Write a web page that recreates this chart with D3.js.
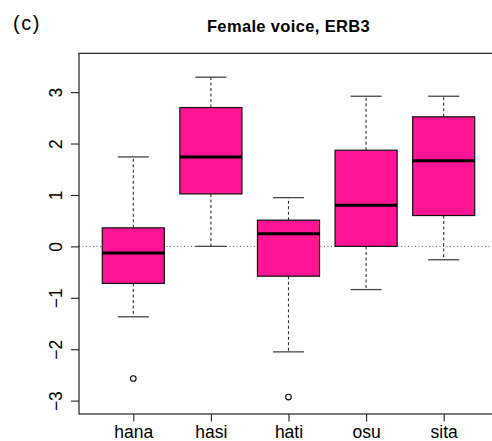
<!DOCTYPE html>
<html>
<head>
<meta charset="utf-8">
<script src="https://cdn.jsdelivr.net/npm/d3@7"></script>
<style>
  html, body { margin: 0; padding: 0; background: #fff; }
  svg { display: block; }
  text { font-family: "Liberation Sans", Arial, Helvetica, sans-serif; fill: #000; }
</style>
</head>
<body>
<svg id="chart" width="492" height="441"></svg>
<script>
// ---- data ----
const categories = ["hana", "hasi", "hati", "osu", "sita"];
const lowerWhisker = [-1.37, 0.00, -2.05, -0.84, -0.26];
const q1 =           [-0.72, 1.02, -0.58, 0.00, 0.60];
const median =       [-0.13, 1.74, 0.245, 0.80, 1.665];
const q3 =           [0.36, 2.70, 0.51, 1.87, 2.52];
const upperWhisker = [1.74, 3.29, 0.95, 2.92, 2.92];
const outliers = [
  { cat: "hana", value: -2.57 },
  { cat: "hati", value: -2.93 }
];
const yTicks = [-3, -2, -1, 0, 1, 2, 3];
const title = "Female voice, ERB3";
const panelLabel = "(c)";

// ---- layout ----
const svg = d3.select("#chart");
const plotLeft = 79, plotRight = 498, plotTop = 53.3, plotBottom = 414;

const x = d3.scalePoint().domain(categories).range([plotLeft, plotRight]).padding(0.7);
const y = d3.scaleLinear().domain([-3.26, 3.755]).range([plotBottom, plotTop]);
const step = x.step();
const boxW = step * 0.8;
const capW = step * 0.4;

const boxes = categories.map((c, i) => ({
  cat: c, lo: lowerWhisker[i], q1: q1[i], med: median[i], q3: q3[i], hi: upperWhisker[i]
}));

// zero reference line (dotted)
svg.append("line")
  .attr("x1", plotLeft).attr("x2", plotRight)
  .attr("y1", y(0)).attr("y2", y(0))
  .attr("stroke", "#555").attr("stroke-width", 1)
  .attr("stroke-dasharray", "1,2.5");

const g = svg.append("g");
const bx = g.selectAll("g.box").data(boxes).join("g").attr("class", "box");

// whiskers (dashed)
bx.append("line")
  .attr("x1", d => x(d.cat)).attr("x2", d => x(d.cat))
  .attr("y1", d => y(d.q3)).attr("y2", d => y(d.hi))
  .attr("stroke", "#333").attr("stroke-width", 1.1).attr("stroke-dasharray", "3,2.5");
bx.append("line")
  .attr("x1", d => x(d.cat)).attr("x2", d => x(d.cat))
  .attr("y1", d => y(d.q1)).attr("y2", d => y(d.lo))
  .attr("stroke", "#333").attr("stroke-width", 1.1).attr("stroke-dasharray", "3,2.5");
// caps
bx.append("line")
  .attr("x1", d => x(d.cat) - capW / 2).attr("x2", d => x(d.cat) + capW / 2)
  .attr("y1", d => y(d.hi)).attr("y2", d => y(d.hi))
  .attr("stroke", "#444").attr("stroke-width", 1.3);
bx.append("line")
  .attr("x1", d => x(d.cat) - capW / 2).attr("x2", d => x(d.cat) + capW / 2)
  .attr("y1", d => y(d.lo)).attr("y2", d => y(d.lo))
  .attr("stroke", "#444").attr("stroke-width", 1.3);
// box
bx.append("rect")
  .attr("x", d => x(d.cat) - boxW / 2).attr("width", boxW)
  .attr("y", d => y(d.q3)).attr("height", d => y(d.q1) - y(d.q3))
  .attr("fill", "#FF1493").attr("stroke", "#111").attr("stroke-width", 1.2);
// median
bx.append("line")
  .attr("x1", d => x(d.cat) - boxW / 2).attr("x2", d => x(d.cat) + boxW / 2)
  .attr("y1", d => y(d.med)).attr("y2", d => y(d.med))
  .attr("stroke", "#000").attr("stroke-width", 3);

// outliers
g.selectAll("circle.out").data(outliers).join("circle")
  .attr("class", "out")
  .attr("cx", d => x(d.cat)).attr("cy", d => y(d.value))
  .attr("r", 2.8).attr("fill", "none").attr("stroke", "#000").attr("stroke-width", 1.1);

// frame
svg.append("rect")
  .attr("x", plotLeft).attr("y", plotTop)
  .attr("width", plotRight - plotLeft).attr("height", plotBottom - plotTop)
  .attr("fill", "none").attr("stroke", "#222").attr("stroke-width", 1.2);

// y axis
const yAxis = svg.append("g")
  .attr("transform", `translate(${plotLeft},0)`)
  .call(d3.axisLeft(y).tickValues(yTicks).tickSize(8).tickSizeOuter(0).tickFormat(d3.format("d")));
yAxis.select(".domain").remove();
yAxis.selectAll(".tick line").attr("stroke", "#222").attr("stroke-width", 1.1);
yAxis.selectAll(".tick text")
  .attr("x", null).attr("dy", null)
  .attr("text-anchor", "middle")
  .attr("transform", "translate(-17.5,0) rotate(-90)")
  .attr("y", 0)
  .style("font-size", "17.5px")
  .style("font-family", "'Liberation Sans', Arial, sans-serif")
  .text(d => d < 0 ? "\u2212" + Math.abs(d) : d);

// x axis
const xAxis = svg.append("g")
  .attr("transform", `translate(0,${plotBottom})`)
  .call(d3.axisBottom(x).tickSize(7.5).tickSizeOuter(0));
xAxis.select(".domain").remove();
xAxis.selectAll(".tick line").attr("stroke", "#222").attr("stroke-width", 1.1);
xAxis.selectAll(".tick text")
  .attr("y", 24).attr("dy", null)
  .style("font-size", "17.5px")
  .style("font-family", "'Liberation Sans', Arial, sans-serif");

// title
svg.append("text")
  .attr("x", (plotLeft + plotRight) / 2).attr("y", 31.5)
  .attr("text-anchor", "middle")
  .style("font-size", "16.5px").style("font-weight", "bold")
  .style("letter-spacing", "0.35px")
  .text(title);

svg.append("text")
  .attr("x", 13).attr("y", 30)
  .style("font-size", "20px")
  .style("letter-spacing", "1.5px")
  .text(panelLabel);
</script>
</body>
</html>
